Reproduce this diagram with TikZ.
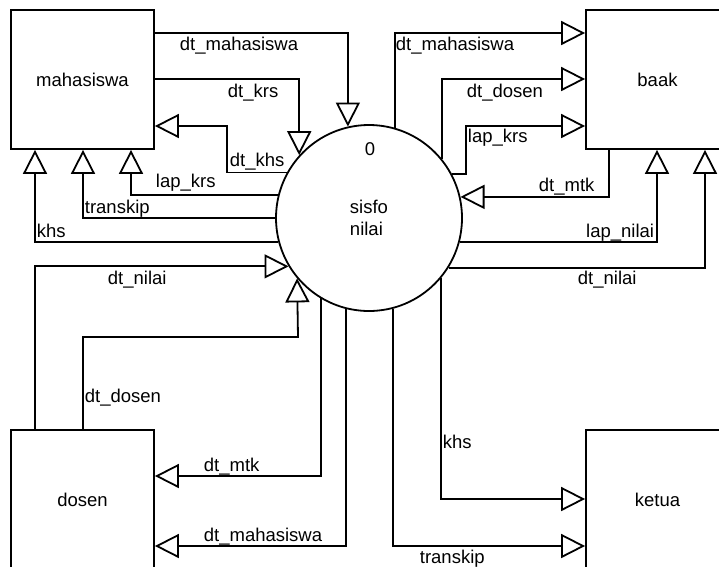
\documentclass[tikz,border=0pt]{standalone}
\usepackage{fontspec}
\setmainfont{Liberation Sans}
\usepackage{tikz}
\usetikzlibrary{arrows.meta}

\tikzset{
  entity/.style={draw, minimum width=143pt, minimum height=139pt},
  proc/.style={draw, circle, minimum size=186pt, inner sep=0pt, align=left},
  flow/.style={-{Triangle[open, length=24pt, width=24pt]}},
  lbl/.style={inner sep=0pt, anchor=base west},
}

\begin{document}
\begin{tikzpicture}[x=1pt, y=-1pt, line width=1.8pt,
    font=\fontsize{18.5}{22}\selectfont]
  \useasboundingbox (0,0) rectangle (719,566);
  \clip (0,0) rectangle (719,566);

  % entities and the process
  \node[entity] (mhs)   at (82.5,79.5)  {mahasiswa};
  \node[entity] (baak)  at (657.5,79.5) {baak};
  \node[entity] (dosen) at (82.5,499.5) {dosen};
  \node[entity] (ketua) at (657.5,499.5){ketua};
  \node[proc]   (sisfo) at (369,218)    {sisfo\\nilai};
  \node (pid) at (370,149) {0};

  % mahasiswa <-> sisfo
  \draw[flow] (mhs.east |- 0,33) -| (sisfo.103.7);
  \draw[flow] (mhs.east |- 0,79) -| (sisfo.138.8);
  \draw[flow] (sisfo.151.1) -| (227,126) -- (mhs.east |- 0,126);
  \draw[flow] (sisfo.166.3) -| (mhs.south -| 131,0);
  \draw[flow] (sisfo.180.6) -| (mhs.south -| 83,0);
  \draw[flow] (sisfo.195)   -| (mhs.south -| 35,0);
  \node[lbl] (lMhsIn)  at (179,50.5)  {dt\_mahasiswa};
  \node[lbl] (lKrsIn)  at (227,97.5)  {dt\_krs};
  \node[lbl] (lKhsOut) at (229,166)   {dt\_khs};
  \node[lbl] (lLapKrs) at (155,187.5) {lap\_krs};
  \node[lbl] (lTrMhs)  at (84,213)    {transkip};
  \node[lbl] (lKhsMhs) at (36,237)    {khs};

  % dosen <-> sisfo
  \draw[flow] (dosen.north -| 35,0) |- (sisfo.211.1);
  \draw[flow] (dosen.north -| 83,0) |- (298,337) -- (sisfo.220.2);
  \draw[flow] (sisfo.239.6) |- (dosen.east |- 0,476);
  \draw[flow] (sisfo.256.3) |- (dosen.east |- 0,546);
  \node[lbl] (lNilaiDs) at (107,284.5) {dt\_nilai};
  \node[lbl] (lDosenDs) at (84,402)    {dt\_dosen};
  \node[lbl] (lMtkDs)   at (203,471)   {dt\_mtk};
  \node[lbl] (lMhsDs)   at (203,541)   {dt\_mahasiswa};

  % sisfo <-> baak
  \draw[flow] (sisfo.74.4) |- (baak.west |- 0,33);
  \draw[flow] (sisfo.39.3) |- (baak.west |- 0,79);
  \draw[flow] (sisfo.28.9) -| (466,126) -- (baak.west |- 0,126);
  \draw[flow] (baak.south -| 609,0) |- (sisfo.13.7);
  \draw[flow] (sisfo.345)   -| (baak.south -| 657,0);
  \draw[flow] (sisfo.328.9) -| (baak.south -| 705,0);
  \node[lbl] (lMhsBk)   at (395,50.5)  {dt\_mahasiswa};
  \node[lbl] (lDosenBk) at (466,97.5)  {dt\_dosen};
  \node[lbl] (lKrsBk)   at (467,142.5) {lap\_krs};
  \node[lbl] (lMtkBk)   at (538,191)   {dt\_mtk};
  \node[lbl, anchor=base east] (lLapNilai) at (655,237.5) {lap\_nilai};
  \node[lbl] (lNilaiBk) at (577,284.5) {dt\_nilai};

  % sisfo -> ketua
  \draw[flow] (sisfo.320.7) |- (ketua.west |- 0,499);
  \draw[flow] (sisfo.285.6) |- (ketua.west |- 0,546);
  \node[lbl] (lKhsKt) at (442,448) {khs};
  \node[lbl] (lTrKt)  at (419,563) {transkip};
\end{tikzpicture}
\end{document}
